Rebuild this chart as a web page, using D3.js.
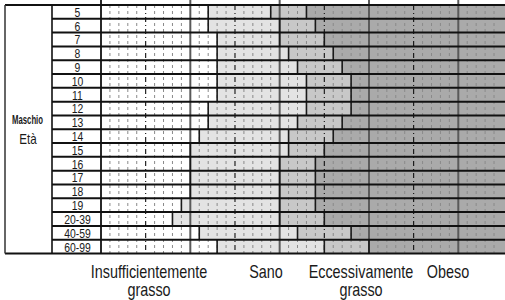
<!DOCTYPE html>
<html>
<head>
<meta charset="utf-8">
<script src="https://cdn.jsdelivr.net/npm/d3@7"></script>
<style>
  html, body { margin: 0; padding: 0; background: #fff; }
  svg { display: block; }
  text { font-family: "Liberation Sans", Arial, Helvetica, sans-serif; fill: #1a1a1a; }
</style>
</head>
<body>
<svg id="chart" width="505" height="300"></svg>
<script>
// ---- data ----
const ageGroups = ["5","6","7","8","9","10","11","12","13","14","15","16","17","18","19","20-39","40-59","60-99"];
// upper limits (body fat %) of each class, per age group
const underfatMax = [12,12,13,13,13,13,13,12,12,11,10,10,10,10, 9, 8,11,13];
const healthyMax  = [19,20,20,21,22,23,23,23,22,21,21,20,20,20,20,20,22,25];
const overfatMax  = [23,24,25,26,27,28,28,28,27,26,25,24,24,24,24,25,28,30];
const categories  = [["Insufficientemente","grasso"],["Sano"],["Eccessivamente","grasso"],["Obeso"]];
const sexLabel = "Maschio";
const axisLabel = "Età";
const majorTicks = [0,10,20,30,40];
const halfTicks  = [5,15,25,35];

(function () {
// ---- layout ----
const W = 505;
const yTop = 5, yBot = 253.5;
const boxL = 5, colL = 52, plotL = 101;
const fills = ["#ffffff","#e3e3e3","#c8c8c8","#aaaaaa"];
const legendX = [149, 266, 361, 448];
const narrow = 0.8;

const svg = d3.select("#chart");
const x = d3.scaleLinear().domain([0,40]).range([plotL, 458.3]);
const xMax = x.invert(W + 2);
const y = d3.scaleBand().domain(ageGroups).range([yTop, yBot]).padding(0);

function label(g, tx, ty, str, size, weight) {
  return g.append("text")
    .attr("transform", `translate(${tx},${ty}) scale(${narrow},1)`)
    .attr("text-anchor", "middle")
    .attr("font-size", size)
    .attr("font-weight", weight || "normal")
    .text(str);
}

const rows = ageGroups.map((a,i) => ({
  age: a,
  segs: [[0, underfatMax[i]], [underfatMax[i], healthyMax[i]], [healthyMax[i], overfatMax[i]], [overfatMax[i], xMax]]
}));

// fills
const gRows = svg.append("g");
rows.forEach(r => {
  gRows.append("g").selectAll("rect").data(r.segs).enter().append("rect")
    .attr("x", d => x(d[0]))
    .attr("width", d => x(d[1]) - x(d[0]))
    .attr("y", y(r.age))
    .attr("height", y.bandwidth())
    .attr("fill", (d,i) => fills[i]);
});

// minor dotted grid
const minor = d3.range(1, 46).filter(k => k % 5 !== 0);
svg.append("g").selectAll("line").data(minor).enter().append("line")
  .attr("x1", d => x(d)).attr("x2", d => x(d))
  .attr("y1", yTop).attr("y2", yBot)
  .attr("stroke", "#8a8a8a").attr("stroke-width", 1)
  .attr("stroke-dasharray", "3,3");

// half lines (dash-dot)
svg.append("g").selectAll("line").data(halfTicks).enter().append("line")
  .attr("x1", d => x(d)).attr("x2", d => x(d))
  .attr("y1", yTop).attr("y2", yBot)
  .attr("stroke", "#111").attr("stroke-width", 1.1)
  .attr("stroke-dasharray", "5,3,1,3");

// major lines
svg.append("g").selectAll("line").data(majorTicks.slice(1)).enter().append("line")
  .attr("x1", d => x(d)).attr("x2", d => x(d))
  .attr("y1", 0).attr("y2", yBot)
  .attr("stroke", "#5a5a5a").attr("stroke-width", 2);

// segment boundaries
rows.forEach(r => {
  svg.append("g").selectAll("line").data(r.segs.slice(1)).enter().append("line")
    .attr("x1", d => x(d[0])).attr("x2", d => x(d[0]))
    .attr("y1", y(r.age)).attr("y2", y(r.age) + y.bandwidth())
    .attr("stroke", "#1a1a1a").attr("stroke-width", 1.6);
});

// row separators
const bounds = ageGroups.map(a => y(a)).concat([yBot]);
svg.append("g").selectAll("line").data(bounds).enter().append("line")
  .attr("x1", (d,i) => (i === 0 || i === bounds.length - 1) ? boxL : colL).attr("x2", W)
  .attr("y1", d => d).attr("y2", d => d)
  .attr("stroke", "#111").attr("stroke-width", 2);

// left box and column lines
svg.append("line").attr("x1", boxL).attr("x2", boxL).attr("y1", yTop).attr("y2", yBot)
  .attr("stroke", "#333").attr("stroke-width", 1.5);
svg.append("line").attr("x1", colL).attr("x2", colL).attr("y1", yTop).attr("y2", yBot)
  .attr("stroke", "#111").attr("stroke-width", 1.6);
svg.append("line").attr("x1", x(0)).attr("x2", x(0)).attr("y1", 0).attr("y2", yBot)
  .attr("stroke", "#111").attr("stroke-width", 1.8);

// row labels
const gLab = svg.append("g");
ageGroups.forEach(a => {
  label(gLab, (colL + plotL) / 2 + 1, y(a) + y.bandwidth() - 2, a, 13);
});

// left labels
svg.append("text").attr("x", 27.5).attr("y", 124).attr("text-anchor","middle")
  .attr("font-size", 13).attr("font-weight","bold")
  .attr("textLength", 31).attr("lengthAdjust","spacingAndGlyphs")
  .text(sexLabel);
label(svg, 28, 144, axisLabel, 14.5);

// legend
categories.forEach((lines, i) => {
  lines.forEach((t, j) => {
    label(svg, legendX[i], 277.7 + j * 18, t, 18);
  });
});
})();
</script>
</body>
</html>
